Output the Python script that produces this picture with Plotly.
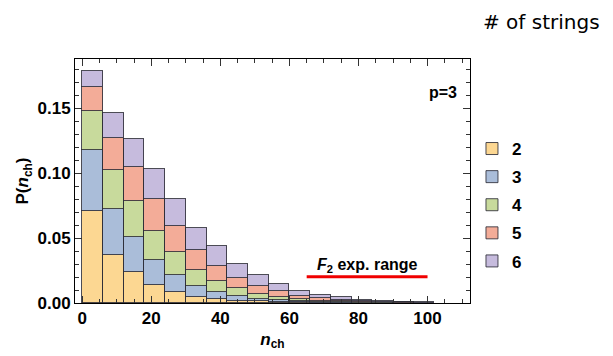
import plotly.graph_objects as go

# ---- data ----
bin_centers = [3, 9, 15, 21, 27, 33, 39, 45, 51, 57, 63, 69, 75, 81, 87, 93, 99]
bin_width = 6
string_counts = ["2", "3", "4", "5", "6"]
p_2 = [0.0705, 0.0369, 0.0235, 0.0138, 0.0087, 0.0046, 0.0030, 0.0018, 0.0012, 0.0008, 0.0004, 0.0002, 0.0001, 0.0, 0.0, 0.0, 0.0]
p_3 = [0.0475, 0.0354, 0.0273, 0.0195, 0.0128, 0.0082, 0.0052, 0.0038, 0.0022, 0.0012, 0.0008, 0.0006, 0.0004, 0.0003, 0.0001, 0.0001, 0.0]
p_4 = [0.0300, 0.0302, 0.0277, 0.0223, 0.0177, 0.0128, 0.0087, 0.0062, 0.0038, 0.0026, 0.0016, 0.0010, 0.0007, 0.0004, 0.0003, 0.0002, 0.0001]
p_5 = [0.0180, 0.0244, 0.0261, 0.0241, 0.0197, 0.0152, 0.0116, 0.0074, 0.0061, 0.0043, 0.0028, 0.0020, 0.0013, 0.0008, 0.0006, 0.0003, 0.0001]
p_6 = [0.0127, 0.0195, 0.0216, 0.0236, 0.0208, 0.0169, 0.0150, 0.0108, 0.0080, 0.0057, 0.0039, 0.0026, 0.0018, 0.0010, 0.0008, 0.0005, 0.0002]
series = [p_2, p_3, p_4, p_5, p_6]
f2_range_x = [65, 100]
f2_range_y = [0.0202, 0.0202]
x_ticks = [0, 20, 40, 60, 80, 100]
y_ticks = [0.00, 0.05, 0.10, 0.15]

colors = ["#FCD792", "#AABDD9", "#C8DA9C", "#F3AC98", "#C6BBDD"]
FONT = "Liberation Sans, Arial, sans-serif"

fig = go.Figure()
for name, vals, col in zip(string_counts, series, colors):
    fig.add_trace(go.Bar(
        x=bin_centers, y=vals, width=bin_width, name=f"<b>{name}</b>",
        legendgroup=name,
        marker=dict(color=col, line=dict(color="rgba(45,45,55,0.85)", width=1)),
    ))

fig.add_trace(go.Scatter(
    x=f2_range_x, y=f2_range_y, mode="lines",
    line=dict(color="#F00000", width=3), showlegend=False, hoverinfo="skip",
))

fig.add_annotation(
    x=sum(f2_range_x) / 2, y=f2_range_y[0], yshift=11, showarrow=False,
    text="<b><i>F</i><sub>2</sub> exp. range</b>",
    font=dict(family=FONT, size=16, color="black"),
)
fig.add_annotation(
    xref="paper", yref="paper", x=0.972, y=0.905, showarrow=False,
    xanchor="right", text="<b>p=3</b>",
    font=dict(family=FONT, size=16, color="black"),
)
fig.add_annotation(
    xref="paper", yref="paper", x=1.335, y=1.152, showarrow=False,
    xanchor="right", yanchor="middle", text="# of strings",
    font=dict(family="DejaVu Sans, sans-serif", size=20, color="black"),
)

fig.update_layout(
    width=613, height=356,
    margin=dict(l=75, r=143, t=59, b=53, autoexpand=False),
    barmode="stack", bargap=0,
    plot_bgcolor="white", paper_bgcolor="white",
    font=dict(family=FONT, size=17, color="black"),
    legend=dict(
        x=1.005, y=0.705, xanchor="left", yanchor="top",
        traceorder="grouped", tracegroupgap=3,
        font=dict(family=FONT, size=17, color="black"),
        itemwidth=30,
    ),
    xaxis=dict(
        range=[-2.1, 112.3], tickvals=x_ticks, ticks="inside", ticklen=7,
        tickcolor="#333", mirror="allticks", showline=True, linecolor="black",
        linewidth=1, showgrid=False, zeroline=False, automargin=False,
        tickfont=dict(family=FONT, size=17, color="black"),
        ticktext=[f"<b>{v}</b>" for v in x_ticks],
        minor=dict(dtick=5, ticks="inside", ticklen=4, tickcolor="#333"),
        title=dict(text="<b><i>n</i><sub>ch</sub></b>", standoff=5,
                   font=dict(family=FONT, size=17, color="black")),
    ),
    yaxis=dict(
        range=[0, 0.1877], tickvals=y_ticks, ticks="inside", ticklen=7,
        tickcolor="#333", mirror="allticks", showline=True, linecolor="black",
        linewidth=1, showgrid=False, zeroline=False, automargin=False,
        ticktext=[f"<b>{v:.2f}</b>" for v in y_ticks],
        tickfont=dict(family=FONT, size=17, color="black"),
        minor=dict(dtick=0.01, ticks="inside", ticklen=4, tickcolor="#333"),
        title=dict(text="<b>P(<i>n</i><sub>ch</sub>)</b>", standoff=4,
                   font=dict(family=FONT, size=17, color="black")),
    ),
)

fig.write_html("out.html")
